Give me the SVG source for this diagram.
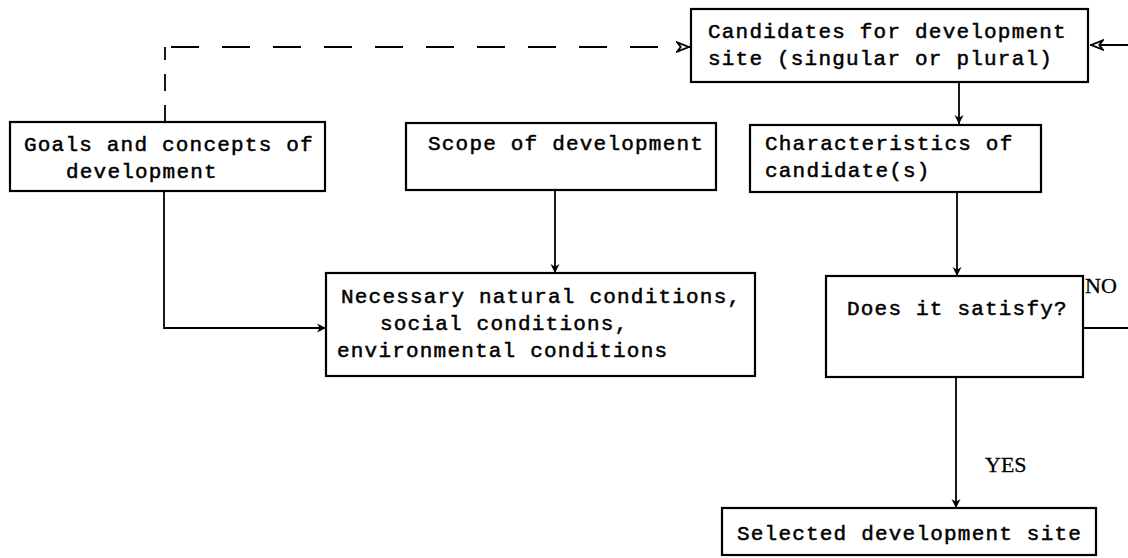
<svg xmlns="http://www.w3.org/2000/svg" width="1128" height="558" viewBox="0 0 1128 558">
  <style>
    .box { fill: #ffffff; stroke: #000000; stroke-width: 2.2; }
    .line { fill: none; stroke: #000000; stroke-width: 1.8; }
    .dash-h { fill: none; stroke: #000000; stroke-width: 1.8; stroke-dasharray: 28 23; }
    .dash-v { fill: none; stroke: #000000; stroke-width: 1.8; stroke-dasharray: 17 14; }
    .t { font-family: "Liberation Mono", "DejaVu Sans Mono", monospace; font-size: 21px; letter-spacing: 1.2px; fill: #000000; stroke: #000000; stroke-width: 0.5; }
    .lbl { font-family: "Liberation Serif", "DejaVu Serif", serif; font-size: 22px; fill: #000000; stroke: #000000; stroke-width: 0.3; }
  </style>
  <defs>
    <marker id="arrow" viewBox="0 0 10 10" refX="10" refY="5" markerWidth="9" markerHeight="13" markerUnits="userSpaceOnUse" orient="auto">
      <path d="M0,0 L10,5 L0,10 L3,5 Z" fill="#000000"/>
    </marker>
    <marker id="arrow-open" viewBox="0 0 12 10" refX="12" refY="5" markerWidth="14" markerHeight="12" markerUnits="userSpaceOnUse" orient="auto">
      <path d="M1,1 L11,5 L1,9 L4,5 Z" fill="#ffffff" stroke="#000000" stroke-width="1.6"/>
    </marker>
  </defs>

  <!-- connectors -->
  <g id="connectors">
    <!-- goals -> candidates (dashed) -->
    <path class="dash-v" d="M165,122 V47"/>
    <path class="dash-h" d="M171,47 H690" marker-end="url(#arrow-open)"/>
    <!-- loop back into candidates from the right -->
    <path class="line" d="M1128,45 H1090" marker-end="url(#arrow-open)"/>
    <!-- candidates -> characteristics -->
    <path class="line" d="M959,82 V124" marker-end="url(#arrow)"/>
    <!-- characteristics -> does it satisfy -->
    <path class="line" d="M957,192 V276" marker-end="url(#arrow)"/>
    <!-- scope -> necessary conditions -->
    <path class="line" d="M555,190 V273" marker-end="url(#arrow)"/>
    <!-- goals -> necessary conditions -->
    <path class="line" d="M164,191 V328 H326" marker-end="url(#arrow)"/>
    <!-- NO branch -->
    <path class="line" d="M1083,328 H1128"/>
    <!-- YES branch -->
    <path class="line" d="M956,377 V508" marker-end="url(#arrow)"/>
  </g>

  <g id="candidates">
    <rect class="box" x="691" y="9" width="397" height="73"/>
    <text class="t" x="708" y="38">Candidates for development</text>
    <text class="t" x="708" y="65">site (singular or plural)</text>
  </g>

  <g id="goals">
    <rect class="box" x="10" y="122" width="315" height="69"/>
    <text class="t" x="24" y="151">Goals and concepts of</text>
    <text class="t" x="66" y="178">development</text>
  </g>

  <g id="scope">
    <rect class="box" x="406" y="123" width="310" height="67"/>
    <text class="t" x="428" y="150">Scope of development</text>
  </g>

  <g id="characteristics">
    <rect class="box" x="750" y="125" width="291" height="67"/>
    <text class="t" x="765" y="150">Characteristics of</text>
    <text class="t" x="765" y="177">candidate(s)</text>
  </g>

  <g id="conditions">
    <rect class="box" x="326" y="273" width="429" height="103"/>
    <text class="t" x="341" y="303">Necessary natural conditions,</text>
    <text class="t" x="380" y="330">social conditions,</text>
    <text class="t" x="337" y="357">environmental conditions</text>
  </g>

  <g id="decision">
    <rect class="box" x="826" y="276" width="257" height="101"/>
    <text class="t" x="847" y="315">Does it satisfy?</text>
    <text class="lbl" x="1085" y="293">NO</text>
  </g>

  <text class="lbl" x="985" y="472">YES</text>

  <g id="selected">
    <rect class="box" x="722" y="508" width="374" height="47"/>
    <text class="t" x="737" y="540">Selected development site</text>
  </g>
</svg>
